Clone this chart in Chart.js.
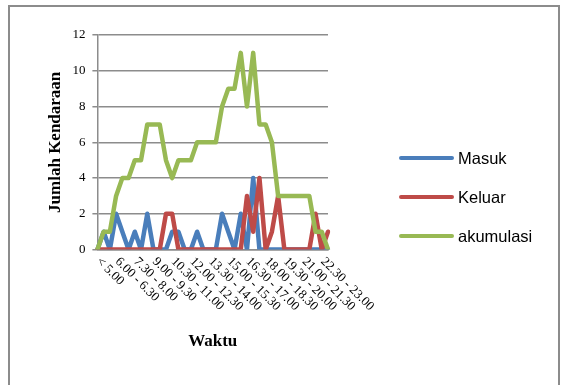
<!DOCTYPE html>
<html>
<head>
<meta charset="utf-8">
<script src="https://cdn.jsdelivr.net/npm/chart.js@4.4.0/dist/chart.umd.min.js"></script>
<style>
html, body { margin: 0; padding: 0; background: #fff; }
body { width: 561px; height: 385px; position: relative; overflow: hidden; }
#frame { position: absolute; left: 8px; top: 5px; width: 552px; height: 400px; border: 2px solid #8c8c8c; box-sizing: border-box; }
#grafik { position: absolute; left: 0; top: 0; }
#legend { position: absolute; left: 399px; top: 0; font-family: "Liberation Sans", Arial, sans-serif; font-size: 16.5px; color: #000; }
.item { position: absolute; left: 0; height: 20px; display: flex; align-items: center; white-space: nowrap; }
.swatch { width: 55px; height: 4px; border-radius: 2px; margin-right: 4px; }
</style>
</head>
<body>
<div id="frame"></div>
<canvas id="grafik" width="561" height="385"></canvas>
<div id="legend"></div>
<script>
// kategori waktu (interval 30 menit)
const kategori = [
    '< 5.00', '5.00 - 5.30', '5.30 - 6.00', '6.00 - 6.30', '6.30 - 7.00', '7.00 - 7.30',
    '7.30 - 8.00', '8.00 - 8.30', '8.30 - 9.00', '9.00 - 9.30', '9.30 - 10.00', '10.00 - 10.30',
    '10.30 - 11.00', '11.00 - 11.30', '11.30 - 12.00', '12.00 - 12.30', '12.30 - 13.00', '13.00 - 13.30',
    '13.30 - 14.00', '14.00 - 14.30', '14.30 - 15.00', '15.00 - 15.30', '15.30 - 16.00', '16.00 - 16.30',
    '16.30 - 17.00', '17.00 - 17.30', '17.30 - 18.00', '18.00 - 18.30', '18.30 - 19.00', '19.00 - 19.30',
    '19.30 - 20.00', '20.00 - 20.30', '20.30 - 21.00', '21.00 - 21.30', '21.30 - 22.00', '22.00 - 22.30',
    '22.30 - 23.00', '> 23.00'
];

const masuk     = [0,1,0,2,1,0,1,0,2,0,0,0,1,1,0,0,1,0,0,0,2,1,0,2,0,4,0,0,0,0,0,0,0,0,0,0,0,0];
const keluar    = [0,0,0,0,0,0,0,0,0,0,0,2,2,0,0,0,0,0,0,0,0,0,0,0,3,1,4,0,1,3,0,0,0,0,0,2,0,1];
const akumulasi = [0,1,1,3,4,4,5,5,7,7,7,5,4,5,5,5,6,6,6,6,8,9,9,11,8,11,7,7,6,3,3,3,3,3,3,1,1,0];

const abu = '#8c8c8c';
const serif = 'Liberation Serif';

// label sumbu x miring ke bawah kanan, tiap 3 kategori
const labelMiring = {
    id: 'labelMiring',
    afterDraw(chart) {
        const x = chart.scales.x;
        const ctx = chart.ctx;
        ctx.save();
        ctx.font = '13px "' + serif + '"';
        ctx.fillStyle = '#000';
        ctx.textAlign = 'left';
        ctx.textBaseline = 'middle';
        x.getLabels().forEach((lbl, i) => {
            if (i % 3 != 0) return;
            ctx.save();
            ctx.translate(x.getPixelForValue(i) + 1, x.top + 10);
            ctx.rotate(Math.PI / 4);
            ctx.fillText(lbl, 0, 0);
            ctx.restore();
        });
        ctx.restore();
    }
};

function seri(label, data, warna, urutan) {
    return {
        label: label,
        data: data,
        borderColor: warna,
        backgroundColor: warna,
        borderWidth: 4.5,
        pointRadius: 0,
        tension: 0,
        borderCapStyle: 'round',
        borderJoinStyle: 'round',
        order: urutan
    };
}

const chart = new Chart(document.getElementById('grafik').getContext('2d'), {
    type: 'line',
    data: {
        labels: kategori,
        datasets: [
            seri('Masuk', masuk, '#4a7ebb', 3),
            seri('Keluar', keluar, '#be4b48', 2),
            seri('akumulasi', akumulasi, '#98b954', 1)
        ]
    },
    options: {
        responsive: false,
        animation: false,
        layout: { padding: { left: 45, right: 233, top: 35, bottom: 33 } },
        plugins: {
            legend: { display: false },
            tooltip: { enabled: false }
        },
        scales: {
            x: {
                offset: false,
                grid: { display: false },
                border: { display: true, color: abu, width: 1.5 },
                ticks: { display: false },
                title: {
                    display: true,
                    text: 'Waktu',
                    color: '#000',
                    font: { family: serif, size: 17, weight: 'bold' },
                    padding: { top: 74, bottom: 0 }
                }
            },
            y: {
                min: 0,
                max: 12,
                ticks: { stepSize: 2, color: '#000', padding: 7, font: { family: serif, size: 13 } },
                grid: { color: abu, lineWidth: 1.5, tickLength: 5 },
                border: { color: abu, width: 1.5 },
                title: {
                    display: true,
                    text: 'Jumlah Kendaraan',
                    color: '#000',
                    font: { family: serif, size: 17, weight: 'bold' },
                    padding: { top: 0, bottom: 0 }
                }
            }
        }
    },
    plugins: [labelMiring]
});

// legenda di kanan
const legend = document.getElementById('legend');
const tengahY = [158, 197, 236];
chart.data.datasets.forEach((ds, i) => {
    const item = document.createElement('div');
    item.className = 'item';
    item.style.top = (tengahY[i] - 10) + 'px';
    const sw = document.createElement('span');
    sw.className = 'swatch';
    sw.style.background = ds.borderColor;
    item.appendChild(sw);
    item.appendChild(document.createTextNode(ds.label));
    legend.appendChild(item);
});
</script>
</body>
</html>
